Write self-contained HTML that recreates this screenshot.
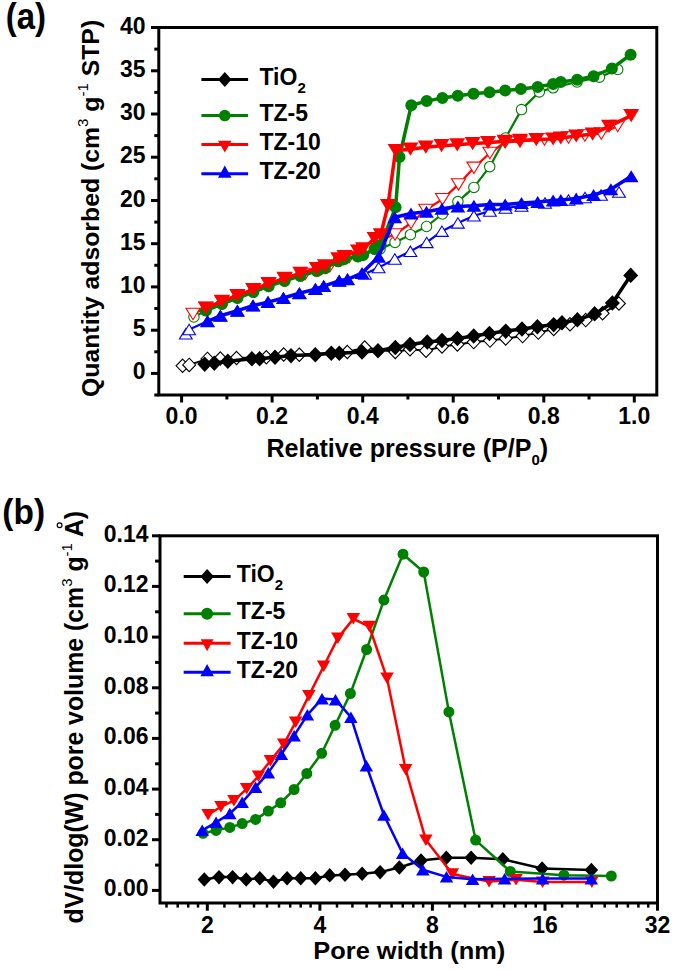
<!DOCTYPE html>
<html><head><meta charset="utf-8"><style>
html,body{margin:0;padding:0;background:#fff;}
svg{display:block;}
text{font-family:"Liberation Sans", sans-serif;font-weight:bold;fill:#000;}
.tk{font-size:22.5px;}
.tkb{font-size:21.5px;}
.lg{font-size:22.5px;}
.sub{font-size:15px;}
.sub2{font-size:15px;}
.sup{font-size:15px;}
.pl{font-size:33px;}
.ttl{font-size:24.5px;}
.ttlb{font-size:23px;}
.ytl{font-size:24px;}
.ytlb{font-size:25px;}
</style></head><body>
<svg width="675" height="970" viewBox="0 0 675 970">
<rect x="158.8" y="27.5" width="497.99999999999994" height="367.5" fill="none" stroke="#000" stroke-width="3"/><line x1="154.3" y1="395.0" x2="158.8" y2="395.0" stroke="#000" stroke-width="3"/><line x1="151.0" y1="373.4" x2="158.8" y2="373.4" stroke="#000" stroke-width="3"/><text transform="translate(145.5,379.4) scale(1.0,1.03)" text-anchor="end" style="font-size:23.0px">0</text><line x1="154.3" y1="351.8" x2="158.8" y2="351.8" stroke="#000" stroke-width="3"/><line x1="151.0" y1="330.2" x2="158.8" y2="330.2" stroke="#000" stroke-width="3"/><text transform="translate(145.5,336.2) scale(1.0,1.03)" text-anchor="end" style="font-size:23.0px">5</text><line x1="154.3" y1="308.5" x2="158.8" y2="308.5" stroke="#000" stroke-width="3"/><line x1="151.0" y1="286.9" x2="158.8" y2="286.9" stroke="#000" stroke-width="3"/><text transform="translate(145.5,292.9) scale(1.0,1.03)" text-anchor="end" style="font-size:23.0px">10</text><line x1="154.3" y1="265.3" x2="158.8" y2="265.3" stroke="#000" stroke-width="3"/><line x1="151.0" y1="243.7" x2="158.8" y2="243.7" stroke="#000" stroke-width="3"/><text transform="translate(145.5,249.7) scale(1.0,1.03)" text-anchor="end" style="font-size:23.0px">15</text><line x1="154.3" y1="222.1" x2="158.8" y2="222.1" stroke="#000" stroke-width="3"/><line x1="151.0" y1="200.5" x2="158.8" y2="200.5" stroke="#000" stroke-width="3"/><text transform="translate(145.5,206.5) scale(1.0,1.03)" text-anchor="end" style="font-size:23.0px">20</text><line x1="154.3" y1="178.8" x2="158.8" y2="178.8" stroke="#000" stroke-width="3"/><line x1="151.0" y1="157.2" x2="158.8" y2="157.2" stroke="#000" stroke-width="3"/><text transform="translate(145.5,163.2) scale(1.0,1.03)" text-anchor="end" style="font-size:23.0px">25</text><line x1="154.3" y1="135.6" x2="158.8" y2="135.6" stroke="#000" stroke-width="3"/><line x1="151.0" y1="114.0" x2="158.8" y2="114.0" stroke="#000" stroke-width="3"/><text transform="translate(145.5,120.0) scale(1.0,1.03)" text-anchor="end" style="font-size:23.0px">30</text><line x1="154.3" y1="92.4" x2="158.8" y2="92.4" stroke="#000" stroke-width="3"/><line x1="151.0" y1="70.8" x2="158.8" y2="70.8" stroke="#000" stroke-width="3"/><text transform="translate(145.5,76.8) scale(1.0,1.03)" text-anchor="end" style="font-size:23.0px">35</text><line x1="154.3" y1="49.1" x2="158.8" y2="49.1" stroke="#000" stroke-width="3"/><line x1="151.0" y1="27.5" x2="158.8" y2="27.5" stroke="#000" stroke-width="3"/><text transform="translate(145.5,33.5) scale(1.0,1.03)" text-anchor="end" style="font-size:23.0px">40</text><line x1="181.6" y1="395" x2="181.6" y2="402.5" stroke="#000" stroke-width="3"/><text transform="translate(181.6,424.0) scale(1.0,1.03)" text-anchor="middle" style="font-size:23.0px">0.0</text><line x1="226.9" y1="395" x2="226.9" y2="399.5" stroke="#000" stroke-width="3"/><line x1="272.1" y1="395" x2="272.1" y2="402.5" stroke="#000" stroke-width="3"/><text transform="translate(272.1,424.0) scale(1.0,1.03)" text-anchor="middle" style="font-size:23.0px">0.2</text><line x1="317.4" y1="395" x2="317.4" y2="399.5" stroke="#000" stroke-width="3"/><line x1="362.7" y1="395" x2="362.7" y2="402.5" stroke="#000" stroke-width="3"/><text transform="translate(362.7,424.0) scale(1.0,1.03)" text-anchor="middle" style="font-size:23.0px">0.4</text><line x1="407.9" y1="395" x2="407.9" y2="399.5" stroke="#000" stroke-width="3"/><line x1="453.2" y1="395" x2="453.2" y2="402.5" stroke="#000" stroke-width="3"/><text transform="translate(453.2,424.0) scale(1.0,1.03)" text-anchor="middle" style="font-size:23.0px">0.6</text><line x1="498.5" y1="395" x2="498.5" y2="399.5" stroke="#000" stroke-width="3"/><line x1="543.8" y1="395" x2="543.8" y2="402.5" stroke="#000" stroke-width="3"/><text transform="translate(543.8,424.0) scale(1.0,1.03)" text-anchor="middle" style="font-size:23.0px">0.8</text><line x1="589.0" y1="395" x2="589.0" y2="399.5" stroke="#000" stroke-width="3"/><line x1="634.3" y1="395" x2="634.3" y2="402.5" stroke="#000" stroke-width="3"/><text transform="translate(634.3,424.0) scale(1.0,1.03)" text-anchor="middle" style="font-size:23.0px">1.0</text><path d="M618.9,303.5 L602.6,313.3 L585.7,320.1 L570.0,324.3 L553.7,329.0 L538.3,332.6 L522.6,336.1 L505.7,338.5 L490.0,340.6 L473.7,342.1 L457.4,344.4 L442.0,346.5 L426.0,350.7 L410.0,349.3 L395.3,352.0 L364.7,347.5 L347.3,352.0 L299.3,354.7 L283.7,354.5 L266.3,357.3 L236.5,358.0 L220.3,358.5 L207.4,358.9 L189.2,364.9 L182.6,365.8" fill="none" stroke="#000" stroke-width="2" stroke-linejoin="round"/><path d="M182.6,359.1 L189.1,365.8 L182.6,372.5 L176.1,365.8Z" fill="#fff" stroke="#000" stroke-width="1.1"/><path d="M189.2,358.2 L195.7,364.9 L189.2,371.6 L182.7,364.9Z" fill="#fff" stroke="#000" stroke-width="1.1"/><path d="M207.4,352.2 L213.9,358.9 L207.4,365.6 L200.9,358.9Z" fill="#fff" stroke="#000" stroke-width="1.1"/><path d="M220.3,351.8 L226.8,358.5 L220.3,365.2 L213.8,358.5Z" fill="#fff" stroke="#000" stroke-width="1.1"/><path d="M236.5,351.3 L243.0,358.0 L236.5,364.7 L230.0,358.0Z" fill="#fff" stroke="#000" stroke-width="1.1"/><path d="M266.3,350.6 L272.8,357.3 L266.3,364.0 L259.8,357.3Z" fill="#fff" stroke="#000" stroke-width="1.1"/><path d="M283.7,347.8 L290.2,354.5 L283.7,361.2 L277.2,354.5Z" fill="#fff" stroke="#000" stroke-width="1.1"/><path d="M299.3,348.0 L305.8,354.7 L299.3,361.4 L292.8,354.7Z" fill="#fff" stroke="#000" stroke-width="1.1"/><path d="M347.3,345.3 L353.8,352.0 L347.3,358.7 L340.8,352.0Z" fill="#fff" stroke="#000" stroke-width="1.1"/><path d="M364.7,340.8 L371.2,347.5 L364.7,354.2 L358.2,347.5Z" fill="#fff" stroke="#000" stroke-width="1.1"/><path d="M395.3,345.3 L401.8,352.0 L395.3,358.7 L388.8,352.0Z" fill="#fff" stroke="#000" stroke-width="1.1"/><path d="M410.0,342.6 L416.5,349.3 L410.0,356.0 L403.5,349.3Z" fill="#fff" stroke="#000" stroke-width="1.1"/><path d="M426.0,344.0 L432.5,350.7 L426.0,357.4 L419.5,350.7Z" fill="#fff" stroke="#000" stroke-width="1.1"/><path d="M442.0,339.8 L448.5,346.5 L442.0,353.2 L435.5,346.5Z" fill="#fff" stroke="#000" stroke-width="1.1"/><path d="M457.4,337.7 L463.9,344.4 L457.4,351.1 L450.9,344.4Z" fill="#fff" stroke="#000" stroke-width="1.1"/><path d="M473.7,335.4 L480.2,342.1 L473.7,348.8 L467.2,342.1Z" fill="#fff" stroke="#000" stroke-width="1.1"/><path d="M490.0,333.9 L496.5,340.6 L490.0,347.3 L483.5,340.6Z" fill="#fff" stroke="#000" stroke-width="1.1"/><path d="M505.7,331.8 L512.2,338.5 L505.7,345.2 L499.2,338.5Z" fill="#fff" stroke="#000" stroke-width="1.1"/><path d="M522.6,329.4 L529.1,336.1 L522.6,342.8 L516.1,336.1Z" fill="#fff" stroke="#000" stroke-width="1.1"/><path d="M538.3,325.9 L544.8,332.6 L538.3,339.3 L531.8,332.6Z" fill="#fff" stroke="#000" stroke-width="1.1"/><path d="M553.7,322.3 L560.2,329.0 L553.7,335.7 L547.2,329.0Z" fill="#fff" stroke="#000" stroke-width="1.1"/><path d="M570.0,317.6 L576.5,324.3 L570.0,331.0 L563.5,324.3Z" fill="#fff" stroke="#000" stroke-width="1.1"/><path d="M585.7,313.4 L592.2,320.1 L585.7,326.8 L579.2,320.1Z" fill="#fff" stroke="#000" stroke-width="1.1"/><path d="M602.6,306.6 L609.1,313.3 L602.6,320.0 L596.1,313.3Z" fill="#fff" stroke="#000" stroke-width="1.1"/><path d="M618.9,296.8 L625.4,303.5 L618.9,310.2 L612.4,303.5Z" fill="#fff" stroke="#000" stroke-width="1.1"/><path d="M204.7,364.1 L214.3,363.1 L227.8,361.2 L251.9,358.7 L259.6,358.7 L275.0,357.3 L291.0,355.6 L315.3,354.7 L331.3,353.3 L339.3,353.3 L362.0,352.0 L378.0,350.7 L395.3,347.5 L410.0,344.5 L427.3,342.0 L442.0,340.5 L457.4,338.5 L473.7,336.0 L489.4,333.5 L505.7,331.1 L522.0,329.0 L537.4,326.7 L553.7,324.6 L562.0,322.8 L577.4,319.9 L594.6,313.9 L612.4,303.0 L630.7,275.4" fill="none" stroke="#000" stroke-width="3.5" stroke-linejoin="round"/><path d="M204.7,356.4 L212.2,364.1 L204.7,371.9 L197.2,364.1Z M214.3,355.4 L221.8,363.1 L214.3,370.9 L206.8,363.1Z M227.8,353.4 L235.3,361.2 L227.8,368.9 L220.3,361.2Z M251.9,350.9 L259.4,358.7 L251.9,366.4 L244.4,358.7Z M259.6,350.9 L267.1,358.7 L259.6,366.4 L252.1,358.7Z M275.0,349.6 L282.5,357.3 L275.0,365.1 L267.5,357.3Z M291.0,347.9 L298.5,355.6 L291.0,363.4 L283.5,355.6Z M315.3,346.9 L322.8,354.7 L315.3,362.4 L307.8,354.7Z M331.3,345.6 L338.8,353.3 L331.3,361.1 L323.8,353.3Z M339.3,345.6 L346.8,353.3 L339.3,361.1 L331.8,353.3Z M362.0,344.2 L369.5,352.0 L362.0,359.8 L354.5,352.0Z M378.0,342.9 L385.5,350.7 L378.0,358.4 L370.5,350.7Z M395.3,339.8 L402.8,347.5 L395.3,355.2 L387.8,347.5Z M410.0,336.8 L417.5,344.5 L410.0,352.2 L402.5,344.5Z M427.3,334.2 L434.8,342.0 L427.3,349.8 L419.8,342.0Z M442.0,332.8 L449.5,340.5 L442.0,348.2 L434.5,340.5Z M457.4,330.8 L464.9,338.5 L457.4,346.2 L449.9,338.5Z M473.7,328.2 L481.2,336.0 L473.7,343.8 L466.2,336.0Z M489.4,325.8 L496.9,333.5 L489.4,341.2 L481.9,333.5Z M505.7,323.4 L513.2,331.1 L505.7,338.9 L498.2,331.1Z M522.0,321.2 L529.5,329.0 L522.0,336.8 L514.5,329.0Z M537.4,318.9 L544.9,326.7 L537.4,334.4 L529.9,326.7Z M553.7,316.9 L561.2,324.6 L553.7,332.4 L546.2,324.6Z M562.0,315.1 L569.5,322.8 L562.0,330.6 L554.5,322.8Z M577.4,312.1 L584.9,319.9 L577.4,327.6 L569.9,319.9Z M594.6,306.1 L602.1,313.9 L594.6,321.6 L587.1,313.9Z M612.4,295.2 L619.9,303.0 L612.4,310.8 L604.9,303.0Z M630.7,267.6 L638.2,275.4 L630.7,283.1 L623.2,275.4Z" fill="#000" stroke="none"/><path d="M617.7,69.5 L599.4,77.2 L577.0,82.0 L553.1,87.8 L539.3,91.9 L521.5,109.6 L505.5,138.0 L489.7,166.7 L473.9,187.4 L457.9,201.6 L442.4,214.0 L426.5,226.5 L410.4,234.7 L395.0,242.4 L380.0,249.0 L374.5,249.0 L363.1,255.0 L357.9,256.5 L344.4,259.0 L338.2,261.3 L324.9,268.3 L316.8,271.1 L300.3,275.9 L284.6,280.9 L268.6,286.2 L253.3,292.1 L237.4,298.0 L221.9,303.9 L205.9,310.6 L193.9,317.0" fill="none" stroke="#008000" stroke-width="2.2" stroke-linejoin="round"/><path d="M188.7,317.0 a5.22,5.22 0 1,0 10.44,0 a5.22,5.22 0 1,0 -10.44,0Z" fill="#fff" stroke="#008000" stroke-width="1.1"/><path d="M200.7,310.6 a5.22,5.22 0 1,0 10.44,0 a5.22,5.22 0 1,0 -10.44,0Z" fill="#fff" stroke="#008000" stroke-width="1.1"/><path d="M216.7,303.9 a5.22,5.22 0 1,0 10.44,0 a5.22,5.22 0 1,0 -10.44,0Z" fill="#fff" stroke="#008000" stroke-width="1.1"/><path d="M232.2,298.0 a5.22,5.22 0 1,0 10.44,0 a5.22,5.22 0 1,0 -10.44,0Z" fill="#fff" stroke="#008000" stroke-width="1.1"/><path d="M248.1,292.1 a5.22,5.22 0 1,0 10.44,0 a5.22,5.22 0 1,0 -10.44,0Z" fill="#fff" stroke="#008000" stroke-width="1.1"/><path d="M263.4,286.2 a5.22,5.22 0 1,0 10.44,0 a5.22,5.22 0 1,0 -10.44,0Z" fill="#fff" stroke="#008000" stroke-width="1.1"/><path d="M279.4,280.9 a5.22,5.22 0 1,0 10.44,0 a5.22,5.22 0 1,0 -10.44,0Z" fill="#fff" stroke="#008000" stroke-width="1.1"/><path d="M295.1,275.9 a5.22,5.22 0 1,0 10.44,0 a5.22,5.22 0 1,0 -10.44,0Z" fill="#fff" stroke="#008000" stroke-width="1.1"/><path d="M311.6,271.1 a5.22,5.22 0 1,0 10.44,0 a5.22,5.22 0 1,0 -10.44,0Z" fill="#fff" stroke="#008000" stroke-width="1.1"/><path d="M319.7,268.3 a5.22,5.22 0 1,0 10.44,0 a5.22,5.22 0 1,0 -10.44,0Z" fill="#fff" stroke="#008000" stroke-width="1.1"/><path d="M333.0,261.3 a5.22,5.22 0 1,0 10.44,0 a5.22,5.22 0 1,0 -10.44,0Z" fill="#fff" stroke="#008000" stroke-width="1.1"/><path d="M339.2,259.0 a5.22,5.22 0 1,0 10.44,0 a5.22,5.22 0 1,0 -10.44,0Z" fill="#fff" stroke="#008000" stroke-width="1.1"/><path d="M352.7,256.5 a5.22,5.22 0 1,0 10.44,0 a5.22,5.22 0 1,0 -10.44,0Z" fill="#fff" stroke="#008000" stroke-width="1.1"/><path d="M357.9,255.0 a5.22,5.22 0 1,0 10.44,0 a5.22,5.22 0 1,0 -10.44,0Z" fill="#fff" stroke="#008000" stroke-width="1.1"/><path d="M369.3,249.0 a5.22,5.22 0 1,0 10.44,0 a5.22,5.22 0 1,0 -10.44,0Z" fill="#fff" stroke="#008000" stroke-width="1.1"/><path d="M374.8,249.0 a5.22,5.22 0 1,0 10.44,0 a5.22,5.22 0 1,0 -10.44,0Z" fill="#fff" stroke="#008000" stroke-width="1.1"/><path d="M389.8,242.4 a5.22,5.22 0 1,0 10.44,0 a5.22,5.22 0 1,0 -10.44,0Z" fill="#fff" stroke="#008000" stroke-width="1.1"/><path d="M405.2,234.7 a5.22,5.22 0 1,0 10.44,0 a5.22,5.22 0 1,0 -10.44,0Z" fill="#fff" stroke="#008000" stroke-width="1.1"/><path d="M421.3,226.5 a5.22,5.22 0 1,0 10.44,0 a5.22,5.22 0 1,0 -10.44,0Z" fill="#fff" stroke="#008000" stroke-width="1.1"/><path d="M437.2,214.0 a5.22,5.22 0 1,0 10.44,0 a5.22,5.22 0 1,0 -10.44,0Z" fill="#fff" stroke="#008000" stroke-width="1.1"/><path d="M452.7,201.6 a5.22,5.22 0 1,0 10.44,0 a5.22,5.22 0 1,0 -10.44,0Z" fill="#fff" stroke="#008000" stroke-width="1.1"/><path d="M468.7,187.4 a5.22,5.22 0 1,0 10.44,0 a5.22,5.22 0 1,0 -10.44,0Z" fill="#fff" stroke="#008000" stroke-width="1.1"/><path d="M484.5,166.7 a5.22,5.22 0 1,0 10.44,0 a5.22,5.22 0 1,0 -10.44,0Z" fill="#fff" stroke="#008000" stroke-width="1.1"/><path d="M500.3,138.0 a5.22,5.22 0 1,0 10.44,0 a5.22,5.22 0 1,0 -10.44,0Z" fill="#fff" stroke="#008000" stroke-width="1.1"/><path d="M516.3,109.6 a5.22,5.22 0 1,0 10.44,0 a5.22,5.22 0 1,0 -10.44,0Z" fill="#fff" stroke="#008000" stroke-width="1.1"/><path d="M534.1,91.9 a5.22,5.22 0 1,0 10.44,0 a5.22,5.22 0 1,0 -10.44,0Z" fill="#fff" stroke="#008000" stroke-width="1.1"/><path d="M547.9,87.8 a5.22,5.22 0 1,0 10.44,0 a5.22,5.22 0 1,0 -10.44,0Z" fill="#fff" stroke="#008000" stroke-width="1.1"/><path d="M571.8,82.0 a5.22,5.22 0 1,0 10.44,0 a5.22,5.22 0 1,0 -10.44,0Z" fill="#fff" stroke="#008000" stroke-width="1.1"/><path d="M594.2,77.2 a5.22,5.22 0 1,0 10.44,0 a5.22,5.22 0 1,0 -10.44,0Z" fill="#fff" stroke="#008000" stroke-width="1.1"/><path d="M612.5,69.5 a5.22,5.22 0 1,0 10.44,0 a5.22,5.22 0 1,0 -10.44,0Z" fill="#fff" stroke="#008000" stroke-width="1.1"/><path d="M617.7,126.0 L601.3,133.5 L584.9,135.5 L568.5,137.5 L544.5,139.5 L520.0,141.5 L505.2,142.2 L489.9,153.0 L473.9,167.8 L458.5,184.4 L442.5,199.2 L425.8,210.0 L411.0,223.0 L395.0,234.5 L383.0,239.0 L379.5,239.0 L368.1,249.3 L362.9,251.5 L349.4,257.0 L343.2,259.3 L329.9,266.3 L321.8,269.1 L305.3,273.9 L284.6,278.4 L268.6,283.7 L253.3,289.6 L237.4,295.5 L221.9,301.4 L205.9,308.1 L193.0,314.0" fill="none" stroke="#ff0000" stroke-width="2.2" stroke-linejoin="round"/><path d="M186.0,308.3 L200.0,308.3 L193.0,319.7Z" fill="#fff" stroke="#ff0000" stroke-width="1.1"/><path d="M198.9,302.4 L212.9,302.4 L205.9,313.8Z" fill="#fff" stroke="#ff0000" stroke-width="1.1"/><path d="M214.9,295.7 L228.9,295.7 L221.9,307.1Z" fill="#fff" stroke="#ff0000" stroke-width="1.1"/><path d="M230.4,289.8 L244.4,289.8 L237.4,301.2Z" fill="#fff" stroke="#ff0000" stroke-width="1.1"/><path d="M246.3,283.9 L260.3,283.9 L253.3,295.3Z" fill="#fff" stroke="#ff0000" stroke-width="1.1"/><path d="M261.6,278.0 L275.6,278.0 L268.6,289.4Z" fill="#fff" stroke="#ff0000" stroke-width="1.1"/><path d="M277.6,272.7 L291.6,272.7 L284.6,284.1Z" fill="#fff" stroke="#ff0000" stroke-width="1.1"/><path d="M298.3,268.2 L312.3,268.2 L305.3,279.6Z" fill="#fff" stroke="#ff0000" stroke-width="1.1"/><path d="M314.8,263.4 L328.8,263.4 L321.8,274.8Z" fill="#fff" stroke="#ff0000" stroke-width="1.1"/><path d="M322.9,260.6 L336.9,260.6 L329.9,272.0Z" fill="#fff" stroke="#ff0000" stroke-width="1.1"/><path d="M336.2,253.6 L350.2,253.6 L343.2,265.0Z" fill="#fff" stroke="#ff0000" stroke-width="1.1"/><path d="M342.4,251.3 L356.4,251.3 L349.4,262.7Z" fill="#fff" stroke="#ff0000" stroke-width="1.1"/><path d="M355.9,245.8 L369.9,245.8 L362.9,257.2Z" fill="#fff" stroke="#ff0000" stroke-width="1.1"/><path d="M361.1,243.6 L375.1,243.6 L368.1,255.0Z" fill="#fff" stroke="#ff0000" stroke-width="1.1"/><path d="M372.5,233.3 L386.5,233.3 L379.5,244.7Z" fill="#fff" stroke="#ff0000" stroke-width="1.1"/><path d="M376.0,233.3 L390.0,233.3 L383.0,244.7Z" fill="#fff" stroke="#ff0000" stroke-width="1.1"/><path d="M388.0,228.8 L402.0,228.8 L395.0,240.2Z" fill="#fff" stroke="#ff0000" stroke-width="1.1"/><path d="M404.0,217.3 L418.0,217.3 L411.0,228.7Z" fill="#fff" stroke="#ff0000" stroke-width="1.1"/><path d="M418.8,204.3 L432.8,204.3 L425.8,215.7Z" fill="#fff" stroke="#ff0000" stroke-width="1.1"/><path d="M435.5,193.5 L449.5,193.5 L442.5,204.9Z" fill="#fff" stroke="#ff0000" stroke-width="1.1"/><path d="M451.5,178.7 L465.5,178.7 L458.5,190.1Z" fill="#fff" stroke="#ff0000" stroke-width="1.1"/><path d="M466.9,162.1 L480.9,162.1 L473.9,173.5Z" fill="#fff" stroke="#ff0000" stroke-width="1.1"/><path d="M482.9,147.3 L496.9,147.3 L489.9,158.7Z" fill="#fff" stroke="#ff0000" stroke-width="1.1"/><path d="M498.2,136.5 L512.2,136.5 L505.2,147.9Z" fill="#fff" stroke="#ff0000" stroke-width="1.1"/><path d="M513.0,135.8 L527.0,135.8 L520.0,147.2Z" fill="#fff" stroke="#ff0000" stroke-width="1.1"/><path d="M537.5,133.8 L551.5,133.8 L544.5,145.2Z" fill="#fff" stroke="#ff0000" stroke-width="1.1"/><path d="M561.5,131.8 L575.5,131.8 L568.5,143.2Z" fill="#fff" stroke="#ff0000" stroke-width="1.1"/><path d="M577.9,129.8 L591.9,129.8 L584.9,141.2Z" fill="#fff" stroke="#ff0000" stroke-width="1.1"/><path d="M594.3,127.8 L608.3,127.8 L601.3,139.2Z" fill="#fff" stroke="#ff0000" stroke-width="1.1"/><path d="M610.7,120.3 L624.7,120.3 L617.7,131.7Z" fill="#fff" stroke="#ff0000" stroke-width="1.1"/><path d="M205.9,310.6 L221.9,303.9 L237.4,298.0 L253.3,292.1 L268.6,286.2 L284.6,280.9 L300.3,275.9 L316.8,271.1 L324.9,268.3 L338.2,261.3 L344.4,259.0 L357.9,256.5 L363.1,255.0 L374.5,249.0 L380.7,245.0 L395.6,207.3 L399.5,157.0 L411.3,105.2 L426.7,101.1 L442.4,97.9 L457.8,95.8 L473.5,93.7 L489.5,92.3 L505.2,90.5 L520.9,89.0 L537.7,86.9 L553.1,84.0 L560.8,82.0 L577.2,79.7 L593.6,76.2 L611.9,68.5 L630.6,54.7" fill="none" stroke="#008000" stroke-width="3.5" stroke-linejoin="round"/><path d="M199.9,310.6 a6.0,6.0 0 1,0 12.0,0 a6.0,6.0 0 1,0 -12.0,0Z M215.9,303.9 a6.0,6.0 0 1,0 12.0,0 a6.0,6.0 0 1,0 -12.0,0Z M231.4,298.0 a6.0,6.0 0 1,0 12.0,0 a6.0,6.0 0 1,0 -12.0,0Z M247.3,292.1 a6.0,6.0 0 1,0 12.0,0 a6.0,6.0 0 1,0 -12.0,0Z M262.6,286.2 a6.0,6.0 0 1,0 12.0,0 a6.0,6.0 0 1,0 -12.0,0Z M278.6,280.9 a6.0,6.0 0 1,0 12.0,0 a6.0,6.0 0 1,0 -12.0,0Z M294.3,275.9 a6.0,6.0 0 1,0 12.0,0 a6.0,6.0 0 1,0 -12.0,0Z M310.8,271.1 a6.0,6.0 0 1,0 12.0,0 a6.0,6.0 0 1,0 -12.0,0Z M318.9,268.3 a6.0,6.0 0 1,0 12.0,0 a6.0,6.0 0 1,0 -12.0,0Z M332.2,261.3 a6.0,6.0 0 1,0 12.0,0 a6.0,6.0 0 1,0 -12.0,0Z M338.4,259.0 a6.0,6.0 0 1,0 12.0,0 a6.0,6.0 0 1,0 -12.0,0Z M351.9,256.5 a6.0,6.0 0 1,0 12.0,0 a6.0,6.0 0 1,0 -12.0,0Z M357.1,255.0 a6.0,6.0 0 1,0 12.0,0 a6.0,6.0 0 1,0 -12.0,0Z M368.5,249.0 a6.0,6.0 0 1,0 12.0,0 a6.0,6.0 0 1,0 -12.0,0Z M374.7,245.0 a6.0,6.0 0 1,0 12.0,0 a6.0,6.0 0 1,0 -12.0,0Z M389.6,207.3 a6.0,6.0 0 1,0 12.0,0 a6.0,6.0 0 1,0 -12.0,0Z M393.5,157.0 a6.0,6.0 0 1,0 12.0,0 a6.0,6.0 0 1,0 -12.0,0Z M405.3,105.2 a6.0,6.0 0 1,0 12.0,0 a6.0,6.0 0 1,0 -12.0,0Z M420.7,101.1 a6.0,6.0 0 1,0 12.0,0 a6.0,6.0 0 1,0 -12.0,0Z M436.4,97.9 a6.0,6.0 0 1,0 12.0,0 a6.0,6.0 0 1,0 -12.0,0Z M451.8,95.8 a6.0,6.0 0 1,0 12.0,0 a6.0,6.0 0 1,0 -12.0,0Z M467.5,93.7 a6.0,6.0 0 1,0 12.0,0 a6.0,6.0 0 1,0 -12.0,0Z M483.5,92.3 a6.0,6.0 0 1,0 12.0,0 a6.0,6.0 0 1,0 -12.0,0Z M499.2,90.5 a6.0,6.0 0 1,0 12.0,0 a6.0,6.0 0 1,0 -12.0,0Z M514.9,89.0 a6.0,6.0 0 1,0 12.0,0 a6.0,6.0 0 1,0 -12.0,0Z M531.7,86.9 a6.0,6.0 0 1,0 12.0,0 a6.0,6.0 0 1,0 -12.0,0Z M547.1,84.0 a6.0,6.0 0 1,0 12.0,0 a6.0,6.0 0 1,0 -12.0,0Z M554.8,82.0 a6.0,6.0 0 1,0 12.0,0 a6.0,6.0 0 1,0 -12.0,0Z M571.2,79.7 a6.0,6.0 0 1,0 12.0,0 a6.0,6.0 0 1,0 -12.0,0Z M587.6,76.2 a6.0,6.0 0 1,0 12.0,0 a6.0,6.0 0 1,0 -12.0,0Z M605.9,68.5 a6.0,6.0 0 1,0 12.0,0 a6.0,6.0 0 1,0 -12.0,0Z M624.6,54.7 a6.0,6.0 0 1,0 12.0,0 a6.0,6.0 0 1,0 -12.0,0Z" fill="#008000" stroke="none"/><path d="M205.9,308.1 L221.9,301.4 L237.4,295.5 L253.3,289.6 L268.6,283.7 L284.6,278.4 L300.3,273.4 L316.8,268.6 L324.9,265.8 L338.2,258.8 L344.4,256.5 L357.9,251.0 L363.1,248.8 L374.5,238.5 L380.7,234.8 L387.9,205.7 L395.6,150.5 L410.4,149.2 L425.8,147.2 L441.5,145.7 L457.2,144.8 L472.6,143.6 L488.0,142.7 L504.6,141.3 L520.0,140.4 L536.3,139.6 L553.1,139.0 L560.8,138.0 L576.2,136.0 L592.6,134.1 L609.0,126.3 L631.2,115.7" fill="none" stroke="#ff0000" stroke-width="3.5" stroke-linejoin="round"/><path d="M197.9,301.5 L213.9,301.5 L205.9,314.7Z M213.9,294.8 L229.9,294.8 L221.9,308.0Z M229.4,288.9 L245.4,288.9 L237.4,302.1Z M245.3,283.0 L261.3,283.0 L253.3,296.2Z M260.6,277.1 L276.6,277.1 L268.6,290.3Z M276.6,271.8 L292.6,271.8 L284.6,285.0Z M292.3,266.8 L308.3,266.8 L300.3,280.0Z M308.8,262.0 L324.8,262.0 L316.8,275.2Z M316.9,259.2 L332.9,259.2 L324.9,272.4Z M330.2,252.2 L346.2,252.2 L338.2,265.4Z M336.4,249.9 L352.4,249.9 L344.4,263.1Z M349.9,244.4 L365.9,244.4 L357.9,257.6Z M355.1,242.2 L371.1,242.2 L363.1,255.4Z M366.5,231.9 L382.5,231.9 L374.5,245.1Z M372.7,228.2 L388.7,228.2 L380.7,241.4Z M379.9,199.1 L395.9,199.1 L387.9,212.3Z M387.6,143.9 L403.6,143.9 L395.6,157.1Z M402.4,142.6 L418.4,142.6 L410.4,155.8Z M417.8,140.6 L433.8,140.6 L425.8,153.8Z M433.5,139.1 L449.5,139.1 L441.5,152.3Z M449.2,138.2 L465.2,138.2 L457.2,151.4Z M464.6,137.0 L480.6,137.0 L472.6,150.2Z M480.0,136.1 L496.0,136.1 L488.0,149.3Z M496.6,134.7 L512.6,134.7 L504.6,147.9Z M512.0,133.8 L528.0,133.8 L520.0,147.0Z M528.3,133.0 L544.3,133.0 L536.3,146.2Z M545.1,132.4 L561.1,132.4 L553.1,145.6Z M552.8,131.4 L568.8,131.4 L560.8,144.6Z M568.2,129.4 L584.2,129.4 L576.2,142.6Z M584.6,127.5 L600.6,127.5 L592.6,140.7Z M601.0,119.7 L617.0,119.7 L609.0,132.9Z M623.2,109.1 L639.2,109.1 L631.2,122.3Z" fill="#ff0000" stroke="none"/><path d="M619.0,192.0 L601.0,195.0 L585.0,197.5 L568.5,200.0 L545.0,203.0 L521.5,206.0 L505.5,208.0 L489.9,211.1 L473.9,215.8 L457.9,222.9 L441.9,231.2 L426.7,242.4 L410.4,251.3 L394.8,259.0 L378.6,267.6 L365.0,274.0 L347.5,279.3 L339.2,280.8 L323.7,286.1 L315.4,289.1 L299.4,293.2 L283.4,298.0 L268.0,302.1 L253.0,305.6 L237.4,310.7 L220.4,315.8 L207.5,321.3 L189.1,329.5 L185.8,333.8" fill="none" stroke="#0000ff" stroke-width="2.2" stroke-linejoin="round"/><path d="M185.8,328.6 L192.2,339.0 L179.4,339.0Z" fill="#fff" stroke="#0000ff" stroke-width="1.1"/><path d="M189.1,324.3 L195.5,334.7 L182.7,334.7Z" fill="#fff" stroke="#0000ff" stroke-width="1.1"/><path d="M207.5,316.1 L213.9,326.5 L201.1,326.5Z" fill="#fff" stroke="#0000ff" stroke-width="1.1"/><path d="M220.4,310.6 L226.8,321.0 L214.0,321.0Z" fill="#fff" stroke="#0000ff" stroke-width="1.1"/><path d="M237.4,305.5 L243.8,315.9 L231.0,315.9Z" fill="#fff" stroke="#0000ff" stroke-width="1.1"/><path d="M253.0,300.4 L259.4,310.8 L246.6,310.8Z" fill="#fff" stroke="#0000ff" stroke-width="1.1"/><path d="M268.0,296.9 L274.4,307.3 L261.6,307.3Z" fill="#fff" stroke="#0000ff" stroke-width="1.1"/><path d="M283.4,292.8 L289.8,303.2 L277.0,303.2Z" fill="#fff" stroke="#0000ff" stroke-width="1.1"/><path d="M299.4,288.0 L305.8,298.4 L293.0,298.4Z" fill="#fff" stroke="#0000ff" stroke-width="1.1"/><path d="M315.4,283.9 L321.8,294.3 L309.0,294.3Z" fill="#fff" stroke="#0000ff" stroke-width="1.1"/><path d="M323.7,280.9 L330.1,291.3 L317.3,291.3Z" fill="#fff" stroke="#0000ff" stroke-width="1.1"/><path d="M339.2,275.6 L345.6,286.0 L332.8,286.0Z" fill="#fff" stroke="#0000ff" stroke-width="1.1"/><path d="M347.5,274.1 L353.9,284.5 L341.1,284.5Z" fill="#fff" stroke="#0000ff" stroke-width="1.1"/><path d="M365.0,268.8 L371.4,279.2 L358.6,279.2Z" fill="#fff" stroke="#0000ff" stroke-width="1.1"/><path d="M378.6,262.4 L385.0,272.8 L372.2,272.8Z" fill="#fff" stroke="#0000ff" stroke-width="1.1"/><path d="M394.8,253.8 L401.2,264.2 L388.4,264.2Z" fill="#fff" stroke="#0000ff" stroke-width="1.1"/><path d="M410.4,246.1 L416.8,256.5 L404.0,256.5Z" fill="#fff" stroke="#0000ff" stroke-width="1.1"/><path d="M426.7,237.2 L433.1,247.6 L420.3,247.6Z" fill="#fff" stroke="#0000ff" stroke-width="1.1"/><path d="M441.9,226.0 L448.3,236.4 L435.5,236.4Z" fill="#fff" stroke="#0000ff" stroke-width="1.1"/><path d="M457.9,217.7 L464.3,228.1 L451.5,228.1Z" fill="#fff" stroke="#0000ff" stroke-width="1.1"/><path d="M473.9,210.6 L480.3,221.0 L467.5,221.0Z" fill="#fff" stroke="#0000ff" stroke-width="1.1"/><path d="M489.9,205.9 L496.3,216.3 L483.5,216.3Z" fill="#fff" stroke="#0000ff" stroke-width="1.1"/><path d="M505.5,202.8 L511.9,213.2 L499.1,213.2Z" fill="#fff" stroke="#0000ff" stroke-width="1.1"/><path d="M521.5,200.8 L527.9,211.2 L515.1,211.2Z" fill="#fff" stroke="#0000ff" stroke-width="1.1"/><path d="M545.0,197.8 L551.4,208.2 L538.6,208.2Z" fill="#fff" stroke="#0000ff" stroke-width="1.1"/><path d="M568.5,194.8 L574.9,205.2 L562.1,205.2Z" fill="#fff" stroke="#0000ff" stroke-width="1.1"/><path d="M585.0,192.3 L591.4,202.7 L578.6,202.7Z" fill="#fff" stroke="#0000ff" stroke-width="1.1"/><path d="M601.0,189.8 L607.4,200.2 L594.6,200.2Z" fill="#fff" stroke="#0000ff" stroke-width="1.1"/><path d="M619.0,186.8 L625.4,197.2 L612.6,197.2Z" fill="#fff" stroke="#0000ff" stroke-width="1.1"/><path d="M207.5,321.3 L220.4,315.8 L237.4,310.7 L253.0,305.6 L268.0,302.1 L283.4,298.0 L299.4,293.2 L315.4,289.1 L323.7,286.1 L339.2,280.8 L347.5,279.3 L362.0,273.0 L378.6,256.7 L394.8,217.3 L411.0,213.5 L426.5,211.7 L441.9,208.7 L457.9,206.4 L473.9,205.8 L489.9,204.4 L505.2,204.4 L521.5,203.0 L537.7,202.1 L553.1,200.6 L560.8,199.9 L576.2,198.5 L593.6,195.0 L610.9,189.3 L631.2,176.3" fill="none" stroke="#0000ff" stroke-width="3.5" stroke-linejoin="round"/><path d="M207.5,315.3 L214.9,327.3 L200.1,327.3Z M220.4,309.8 L227.8,321.8 L213.0,321.8Z M237.4,304.7 L244.8,316.7 L230.0,316.7Z M253.0,299.6 L260.4,311.6 L245.6,311.6Z M268.0,296.1 L275.4,308.1 L260.6,308.1Z M283.4,292.0 L290.8,304.0 L276.0,304.0Z M299.4,287.2 L306.8,299.2 L292.0,299.2Z M315.4,283.1 L322.8,295.1 L308.0,295.1Z M323.7,280.1 L331.1,292.1 L316.3,292.1Z M339.2,274.8 L346.6,286.8 L331.8,286.8Z M347.5,273.3 L354.9,285.3 L340.1,285.3Z M362.0,267.0 L369.4,279.0 L354.6,279.0Z M378.6,250.7 L386.0,262.7 L371.2,262.7Z M394.8,211.3 L402.2,223.3 L387.4,223.3Z M411.0,207.5 L418.4,219.5 L403.6,219.5Z M426.5,205.7 L433.9,217.7 L419.1,217.7Z M441.9,202.7 L449.3,214.7 L434.5,214.7Z M457.9,200.4 L465.3,212.4 L450.5,212.4Z M473.9,199.8 L481.3,211.8 L466.5,211.8Z M489.9,198.4 L497.3,210.4 L482.5,210.4Z M505.2,198.4 L512.6,210.4 L497.8,210.4Z M521.5,197.0 L528.9,209.0 L514.1,209.0Z M537.7,196.1 L545.1,208.1 L530.3,208.1Z M553.1,194.6 L560.5,206.6 L545.7,206.6Z M560.8,193.9 L568.2,205.9 L553.4,205.9Z M576.2,192.5 L583.6,204.5 L568.8,204.5Z M593.6,189.0 L601.0,201.0 L586.2,201.0Z M610.9,183.3 L618.3,195.3 L603.5,195.3Z M631.2,170.3 L638.6,182.3 L623.8,182.3Z" fill="#0000ff" stroke="none"/><line x1="201.4" y1="79.5" x2="248.1" y2="79.5" stroke="#000" stroke-width="3"/><path d="M224.8,72.0 L231.5,79.5 L224.8,87.0 L218.0,79.5Z" fill="#000" stroke="none"/><text transform="translate(259.5,85.0) scale(1.0,1.03)" style="font-size:23.0px">TiO<tspan style="font-size:15px" dy="7.5">2</tspan></text><line x1="201.4" y1="115.6" x2="248.1" y2="115.6" stroke="#008000" stroke-width="3"/><path d="M219.0,115.6 a5.75,5.75 0 1,0 11.5,0 a5.75,5.75 0 1,0 -11.5,0Z" fill="#008000" stroke="none"/><text transform="translate(259.5,121.1) scale(1.0,1.03)" style="font-size:23.0px">TZ-5</text><line x1="201.4" y1="144.6" x2="248.1" y2="144.6" stroke="#ff0000" stroke-width="3"/><path d="M218.0,140.7 L231.5,140.7 L224.8,152.5Z" fill="#ff0000" stroke="none"/><text transform="translate(259.5,150.1) scale(1.0,1.03)" style="font-size:23.0px">TZ-10</text><line x1="201.4" y1="173.7" x2="248.1" y2="173.7" stroke="#0000ff" stroke-width="3"/><path d="M224.8,165.4 L231.5,177.8 L218.0,177.8Z" fill="#0000ff" stroke="none"/><text transform="translate(259.5,179.2) scale(1.0,1.03)" style="font-size:23.0px">TZ-20</text><rect x="160" y="535.8" width="497.5" height="367.20000000000005" fill="none" stroke="#000" stroke-width="3"/><line x1="152.0" y1="890.4" x2="160" y2="890.4" stroke="#000" stroke-width="3"/><text transform="translate(148.5,896.3) scale(1.0,1.03)" text-anchor="end" style="font-size:23.0px">0.00</text><line x1="155.1" y1="865.1" x2="160" y2="865.1" stroke="#000" stroke-width="3"/><line x1="152.0" y1="839.7" x2="160" y2="839.7" stroke="#000" stroke-width="3"/><text transform="translate(148.5,845.6) scale(1.0,1.03)" text-anchor="end" style="font-size:23.0px">0.02</text><line x1="155.1" y1="814.4" x2="160" y2="814.4" stroke="#000" stroke-width="3"/><line x1="152.0" y1="789.1" x2="160" y2="789.1" stroke="#000" stroke-width="3"/><text transform="translate(148.5,795.0) scale(1.0,1.03)" text-anchor="end" style="font-size:23.0px">0.04</text><line x1="155.1" y1="763.8" x2="160" y2="763.8" stroke="#000" stroke-width="3"/><line x1="152.0" y1="738.4" x2="160" y2="738.4" stroke="#000" stroke-width="3"/><text transform="translate(148.5,744.3) scale(1.0,1.03)" text-anchor="end" style="font-size:23.0px">0.06</text><line x1="155.1" y1="713.1" x2="160" y2="713.1" stroke="#000" stroke-width="3"/><line x1="152.0" y1="687.8" x2="160" y2="687.8" stroke="#000" stroke-width="3"/><text transform="translate(148.5,693.7) scale(1.0,1.03)" text-anchor="end" style="font-size:23.0px">0.08</text><line x1="155.1" y1="662.4" x2="160" y2="662.4" stroke="#000" stroke-width="3"/><line x1="152.0" y1="637.1" x2="160" y2="637.1" stroke="#000" stroke-width="3"/><text transform="translate(148.5,643.0) scale(1.0,1.03)" text-anchor="end" style="font-size:23.0px">0.10</text><line x1="155.1" y1="611.8" x2="160" y2="611.8" stroke="#000" stroke-width="3"/><line x1="152.0" y1="586.4" x2="160" y2="586.4" stroke="#000" stroke-width="3"/><text transform="translate(148.5,592.3) scale(1.0,1.03)" text-anchor="end" style="font-size:23.0px">0.12</text><line x1="155.1" y1="561.1" x2="160" y2="561.1" stroke="#000" stroke-width="3"/><line x1="152.0" y1="535.8" x2="160" y2="535.8" stroke="#000" stroke-width="3"/><text transform="translate(148.5,541.7) scale(1.0,1.03)" text-anchor="end" style="font-size:23.0px">0.14</text><line x1="166.5" y1="903" x2="166.5" y2="907.6" stroke="#000" stroke-width="2.5"/><line x1="177.7" y1="903" x2="177.7" y2="907.6" stroke="#000" stroke-width="2.5"/><line x1="188.2" y1="903" x2="188.2" y2="907.6" stroke="#000" stroke-width="2.5"/><line x1="198.0" y1="903" x2="198.0" y2="907.6" stroke="#000" stroke-width="2.5"/><line x1="224.4" y1="903" x2="224.4" y2="907.6" stroke="#000" stroke-width="2.5"/><line x1="239.9" y1="903" x2="239.9" y2="907.6" stroke="#000" stroke-width="2.5"/><line x1="254.0" y1="903" x2="254.0" y2="907.6" stroke="#000" stroke-width="2.5"/><line x1="267.0" y1="903" x2="267.0" y2="907.6" stroke="#000" stroke-width="2.5"/><line x1="279.0" y1="903" x2="279.0" y2="907.6" stroke="#000" stroke-width="2.5"/><line x1="290.2" y1="903" x2="290.2" y2="907.6" stroke="#000" stroke-width="2.5"/><line x1="300.7" y1="903" x2="300.7" y2="907.6" stroke="#000" stroke-width="2.5"/><line x1="310.6" y1="903" x2="310.6" y2="907.6" stroke="#000" stroke-width="2.5"/><line x1="337.0" y1="903" x2="337.0" y2="907.6" stroke="#000" stroke-width="2.5"/><line x1="352.4" y1="903" x2="352.4" y2="907.6" stroke="#000" stroke-width="2.5"/><line x1="366.6" y1="903" x2="366.6" y2="907.6" stroke="#000" stroke-width="2.5"/><line x1="379.6" y1="903" x2="379.6" y2="907.6" stroke="#000" stroke-width="2.5"/><line x1="391.6" y1="903" x2="391.6" y2="907.6" stroke="#000" stroke-width="2.5"/><line x1="402.8" y1="903" x2="402.8" y2="907.6" stroke="#000" stroke-width="2.5"/><line x1="413.3" y1="903" x2="413.3" y2="907.6" stroke="#000" stroke-width="2.5"/><line x1="423.1" y1="903" x2="423.1" y2="907.6" stroke="#000" stroke-width="2.5"/><line x1="449.5" y1="903" x2="449.5" y2="907.6" stroke="#000" stroke-width="2.5"/><line x1="465.0" y1="903" x2="465.0" y2="907.6" stroke="#000" stroke-width="2.5"/><line x1="479.1" y1="903" x2="479.1" y2="907.6" stroke="#000" stroke-width="2.5"/><line x1="492.1" y1="903" x2="492.1" y2="907.6" stroke="#000" stroke-width="2.5"/><line x1="504.1" y1="903" x2="504.1" y2="907.6" stroke="#000" stroke-width="2.5"/><line x1="515.3" y1="903" x2="515.3" y2="907.6" stroke="#000" stroke-width="2.5"/><line x1="525.8" y1="903" x2="525.8" y2="907.6" stroke="#000" stroke-width="2.5"/><line x1="535.7" y1="903" x2="535.7" y2="907.6" stroke="#000" stroke-width="2.5"/><line x1="562.1" y1="903" x2="562.1" y2="907.6" stroke="#000" stroke-width="2.5"/><line x1="577.5" y1="903" x2="577.5" y2="907.6" stroke="#000" stroke-width="2.5"/><line x1="591.7" y1="903" x2="591.7" y2="907.6" stroke="#000" stroke-width="2.5"/><line x1="604.7" y1="903" x2="604.7" y2="907.6" stroke="#000" stroke-width="2.5"/><line x1="616.7" y1="903" x2="616.7" y2="907.6" stroke="#000" stroke-width="2.5"/><line x1="627.9" y1="903" x2="627.9" y2="907.6" stroke="#000" stroke-width="2.5"/><line x1="638.4" y1="903" x2="638.4" y2="907.6" stroke="#000" stroke-width="2.5"/><line x1="648.2" y1="903" x2="648.2" y2="907.6" stroke="#000" stroke-width="2.5"/><line x1="207.3" y1="903" x2="207.3" y2="910.7" stroke="#000" stroke-width="3"/><text transform="translate(207.3,932.8) scale(1.0,1.03)" text-anchor="middle" style="font-size:23.0px">2</text><line x1="319.9" y1="903" x2="319.9" y2="910.7" stroke="#000" stroke-width="3"/><text transform="translate(319.9,932.8) scale(1.0,1.03)" text-anchor="middle" style="font-size:23.0px">4</text><line x1="432.4" y1="903" x2="432.4" y2="910.7" stroke="#000" stroke-width="3"/><text transform="translate(432.4,932.8) scale(1.0,1.03)" text-anchor="middle" style="font-size:23.0px">8</text><line x1="545.0" y1="903" x2="545.0" y2="910.7" stroke="#000" stroke-width="3"/><text transform="translate(545.0,932.8) scale(1.0,1.03)" text-anchor="middle" style="font-size:23.0px">16</text><line x1="657.5" y1="903" x2="657.5" y2="910.7" stroke="#000" stroke-width="3"/><text transform="translate(657.5,932.8) scale(1.0,1.03)" text-anchor="middle" style="font-size:23.0px">32</text><path d="M204.3,879.5 L219.0,877.1 L232.6,877.1 L246.2,879.5 L259.8,878.2 L273.5,881.6 L287.1,878.2 L300.7,878.2 L315.4,878.2 L329.7,875.4 L345.0,874.8 L362.1,873.7 L380.1,872.1 L399.4,867.5 L421.0,860.5 L446.3,857.8 L471.1,857.7 L502.8,859.3 L542.1,868.5 L591.4,870.0" fill="none" stroke="#000" stroke-width="2.5" stroke-linejoin="round"/><path d="M204.3,872.2 L211.1,879.5 L204.3,886.8 L197.6,879.5Z M219.0,869.9 L225.8,877.1 L219.0,884.4 L212.2,877.1Z M232.6,869.9 L239.3,877.1 L232.6,884.4 L225.8,877.1Z M246.2,872.2 L252.9,879.5 L246.2,886.8 L239.4,879.5Z M259.8,871.0 L266.6,878.2 L259.8,885.5 L253.1,878.2Z M273.5,874.4 L280.2,881.6 L273.5,888.9 L266.8,881.6Z M287.1,871.0 L293.9,878.2 L287.1,885.5 L280.4,878.2Z M300.7,871.0 L307.4,878.2 L300.7,885.5 L293.9,878.2Z M315.4,871.0 L322.1,878.2 L315.4,885.5 L308.6,878.2Z M329.7,868.1 L336.4,875.4 L329.7,882.6 L322.9,875.4Z M345.0,867.5 L351.8,874.8 L345.0,882.0 L338.2,874.8Z M362.1,866.5 L368.9,873.7 L362.1,881.0 L355.4,873.7Z M380.1,864.9 L386.9,872.1 L380.1,879.4 L373.4,872.1Z M399.4,860.2 L406.1,867.5 L399.4,874.8 L392.6,867.5Z M421.0,853.2 L427.8,860.5 L421.0,867.8 L414.2,860.5Z M446.3,850.5 L453.1,857.8 L446.3,865.0 L439.6,857.8Z M471.1,850.5 L477.9,857.7 L471.1,865.0 L464.4,857.7Z M502.8,852.0 L509.6,859.3 L502.8,866.5 L496.1,859.3Z M542.1,861.2 L548.9,868.5 L542.1,875.8 L535.4,868.5Z M591.4,862.8 L598.1,870.0 L591.4,877.2 L584.6,870.0Z" fill="#000" stroke="none"/><path d="M203.1,833.3 L216.1,830.4 L229.8,827.4 L242.2,823.6 L255.6,819.4 L268.3,811.1 L280.7,802.8 L294.1,789.5 L306.8,773.5 L321.7,753.3 L335.1,725.3 L350.4,693.5 L366.6,649.5 L383.9,600.1 L403.0,554.2 L423.7,572.0 L448.9,711.9 L475.6,840.1 L510.3,871.5 L563.9,875.2 L611.3,876.0" fill="none" stroke="#008000" stroke-width="2.5" stroke-linejoin="round"/><path d="M197.6,833.3 a5.5,5.5 0 1,0 11.0,0 a5.5,5.5 0 1,0 -11.0,0Z M210.6,830.4 a5.5,5.5 0 1,0 11.0,0 a5.5,5.5 0 1,0 -11.0,0Z M224.3,827.4 a5.5,5.5 0 1,0 11.0,0 a5.5,5.5 0 1,0 -11.0,0Z M236.7,823.6 a5.5,5.5 0 1,0 11.0,0 a5.5,5.5 0 1,0 -11.0,0Z M250.1,819.4 a5.5,5.5 0 1,0 11.0,0 a5.5,5.5 0 1,0 -11.0,0Z M262.8,811.1 a5.5,5.5 0 1,0 11.0,0 a5.5,5.5 0 1,0 -11.0,0Z M275.2,802.8 a5.5,5.5 0 1,0 11.0,0 a5.5,5.5 0 1,0 -11.0,0Z M288.6,789.5 a5.5,5.5 0 1,0 11.0,0 a5.5,5.5 0 1,0 -11.0,0Z M301.3,773.5 a5.5,5.5 0 1,0 11.0,0 a5.5,5.5 0 1,0 -11.0,0Z M316.2,753.3 a5.5,5.5 0 1,0 11.0,0 a5.5,5.5 0 1,0 -11.0,0Z M329.6,725.3 a5.5,5.5 0 1,0 11.0,0 a5.5,5.5 0 1,0 -11.0,0Z M344.9,693.5 a5.5,5.5 0 1,0 11.0,0 a5.5,5.5 0 1,0 -11.0,0Z M361.1,649.5 a5.5,5.5 0 1,0 11.0,0 a5.5,5.5 0 1,0 -11.0,0Z M378.4,600.1 a5.5,5.5 0 1,0 11.0,0 a5.5,5.5 0 1,0 -11.0,0Z M397.5,554.2 a5.5,5.5 0 1,0 11.0,0 a5.5,5.5 0 1,0 -11.0,0Z M418.2,572.0 a5.5,5.5 0 1,0 11.0,0 a5.5,5.5 0 1,0 -11.0,0Z M443.4,711.9 a5.5,5.5 0 1,0 11.0,0 a5.5,5.5 0 1,0 -11.0,0Z M470.1,840.1 a5.5,5.5 0 1,0 11.0,0 a5.5,5.5 0 1,0 -11.0,0Z M504.8,871.5 a5.5,5.5 0 1,0 11.0,0 a5.5,5.5 0 1,0 -11.0,0Z M558.4,875.2 a5.5,5.5 0 1,0 11.0,0 a5.5,5.5 0 1,0 -11.0,0Z M605.8,876.0 a5.5,5.5 0 1,0 11.0,0 a5.5,5.5 0 1,0 -11.0,0Z" fill="#008000" stroke="none"/><path d="M208.1,814.7 L220.9,806.7 L233.9,800.7 L246.7,788.9 L258.5,776.1 L270.4,760.7 L283.7,744.4 L295.6,722.2 L308.9,695.6 L323.7,666.3 L337.8,638.1 L353.3,618.9 L369.3,626.5 L387.0,678.3 L405.7,769.7 L425.9,840.1 L452.4,874.0 L489.1,881.6 L516.0,879.8 L542.6,882.1 L591.9,882.1" fill="none" stroke="#ff0000" stroke-width="2.5" stroke-linejoin="round"/><path d="M201.3,809.0 L214.8,809.0 L208.1,820.5Z M214.2,801.0 L227.7,801.0 L220.9,812.5Z M227.2,795.0 L240.7,795.0 L233.9,806.5Z M239.9,783.1 L253.4,783.1 L246.7,794.6Z M251.8,770.4 L265.2,770.4 L258.5,781.9Z M263.6,755.0 L277.1,755.0 L270.4,766.5Z M276.9,738.6 L290.4,738.6 L283.7,750.1Z M288.9,716.5 L302.4,716.5 L295.6,728.0Z M302.1,689.9 L315.6,689.9 L308.9,701.4Z M316.9,660.5 L330.4,660.5 L323.7,672.0Z M331.1,632.4 L344.6,632.4 L337.8,643.9Z M346.6,613.1 L360.1,613.1 L353.3,624.6Z M362.6,620.8 L376.1,620.8 L369.3,632.2Z M380.2,672.5 L393.8,672.5 L387.0,684.0Z M398.9,764.0 L412.4,764.0 L405.7,775.5Z M419.1,834.4 L432.6,834.4 L425.9,845.9Z M445.6,868.2 L459.1,868.2 L452.4,879.8Z M482.4,875.9 L495.9,875.9 L489.1,887.4Z M509.2,874.0 L522.8,874.0 L516.0,885.5Z M535.9,876.4 L549.4,876.4 L542.6,887.9Z M585.1,876.4 L598.6,876.4 L591.9,887.9Z" fill="#ff0000" stroke="none"/><path d="M202.2,830.4 L216.1,822.4 L229.8,813.5 L242.2,802.2 L255.6,787.4 L268.3,772.6 L281.3,754.2 L294.1,735.6 L307.4,714.8 L322.0,698.6 L335.5,699.6 L350.9,717.1 L366.4,765.6 L383.9,815.0 L402.6,853.4 L422.8,869.8 L446.5,876.9 L472.6,879.2 L504.6,878.7 L542.6,878.6 L591.4,878.6" fill="none" stroke="#0000ff" stroke-width="2.5" stroke-linejoin="round"/><path d="M202.2,824.6 L208.9,836.1 L195.4,836.1Z M216.1,816.6 L222.8,828.1 L209.3,828.1Z M229.8,807.8 L236.6,819.2 L223.1,819.2Z M242.2,796.5 L248.9,808.0 L235.4,808.0Z M255.6,781.6 L262.4,793.1 L248.8,793.1Z M268.3,766.9 L275.1,778.4 L261.6,778.4Z M281.3,748.5 L288.1,760.0 L274.6,760.0Z M294.1,729.9 L300.9,741.4 L287.4,741.4Z M307.4,709.0 L314.1,720.5 L300.6,720.5Z M322.0,692.9 L328.8,704.4 L315.2,704.4Z M335.5,693.9 L342.2,705.4 L328.8,705.4Z M350.9,711.4 L357.6,722.9 L344.1,722.9Z M366.4,759.9 L373.1,771.4 L359.6,771.4Z M383.9,809.2 L390.6,820.8 L377.1,820.8Z M402.6,847.6 L409.4,859.1 L395.9,859.1Z M422.8,864.0 L429.6,875.5 L416.1,875.5Z M446.5,871.1 L453.2,882.6 L439.8,882.6Z M472.6,873.5 L479.4,885.0 L465.9,885.0Z M504.6,873.0 L511.4,884.5 L497.9,884.5Z M542.6,872.9 L549.4,884.4 L535.9,884.4Z M591.4,872.9 L598.1,884.4 L584.6,884.4Z" fill="#0000ff" stroke="none"/><line x1="183.7" y1="576.4" x2="230.6" y2="576.4" stroke="#000" stroke-width="3"/><path d="M207.1,568.9 L213.9,576.4 L207.1,583.9 L200.4,576.4Z" fill="#000" stroke="none"/><text transform="translate(236.8,581.9) scale(1.0,1.03)" style="font-size:23.0px">TiO<tspan style="font-size:15px" dy="7.5">2</tspan></text><line x1="183.7" y1="613.7" x2="230.6" y2="613.7" stroke="#008000" stroke-width="3"/><path d="M201.1,613.7 a6.0,6.0 0 1,0 12.0,0 a6.0,6.0 0 1,0 -12.0,0Z" fill="#008000" stroke="none"/><text transform="translate(236.8,619.2) scale(1.0,1.03)" style="font-size:23.0px">TZ-5</text><line x1="183.7" y1="643.2" x2="230.6" y2="643.2" stroke="#ff0000" stroke-width="3"/><path d="M200.7,639.2 L213.5,639.2 L207.1,651.2Z" fill="#ff0000" stroke="none"/><text transform="translate(236.8,648.7) scale(1.0,1.03)" style="font-size:23.0px">TZ-10</text><line x1="183.7" y1="672.2" x2="230.6" y2="672.2" stroke="#0000ff" stroke-width="3"/><path d="M207.1,664.1 L213.9,676.3 L200.4,676.3Z" fill="#0000ff" stroke="none"/><text transform="translate(236.8,677.7) scale(1.0,1.03)" style="font-size:23.0px">TZ-20</text><text transform="translate(5.80,29.30) scale(0.97,1.06)" text-anchor="start" style="font-size:34.0px">(a)</text><text transform="translate(2.30,524.00) scale(0.97,1.04)" text-anchor="start" style="font-size:34.5px">(b)</text><text transform="translate(266.50,456.80)" text-anchor="start" style="font-size:25.1px">Relative pressure (P/P<tspan style="font-size:15px" dy="8">0</tspan><tspan dy="-8">)</tspan></text><text transform="translate(313.30,959.00) scale(1.038,1.0)" text-anchor="start" style="font-size:24.5px">Pore width (nm)</text><text transform="translate(99.30,397.00) rotate(-90)" text-anchor="start" style="font-size:24.8px">Quantity adsorbed (cm<tspan style="font-size:15px;font-weight:normal" dy="-11">3</tspan><tspan dy="11"> g</tspan><tspan style="font-size:15px;font-weight:normal" dy="-11">-1</tspan><tspan dy="11"> STP)</tspan></text><circle cx="59.6" cy="525.2" r="2.4" fill="none" stroke="#000" stroke-width="1.2"/><text transform="translate(83.00,923.60) rotate(-90)" text-anchor="start" style="font-size:24.85px">dV/dlog(W) pore volume (cm<tspan style="font-size:15px;font-weight:normal" dy="-11">3</tspan><tspan dy="11"> g</tspan><tspan style="font-size:15px;font-weight:normal" dy="-11">-1</tspan><tspan dy="11"> A)</tspan></text>
</svg>
</body></html>
